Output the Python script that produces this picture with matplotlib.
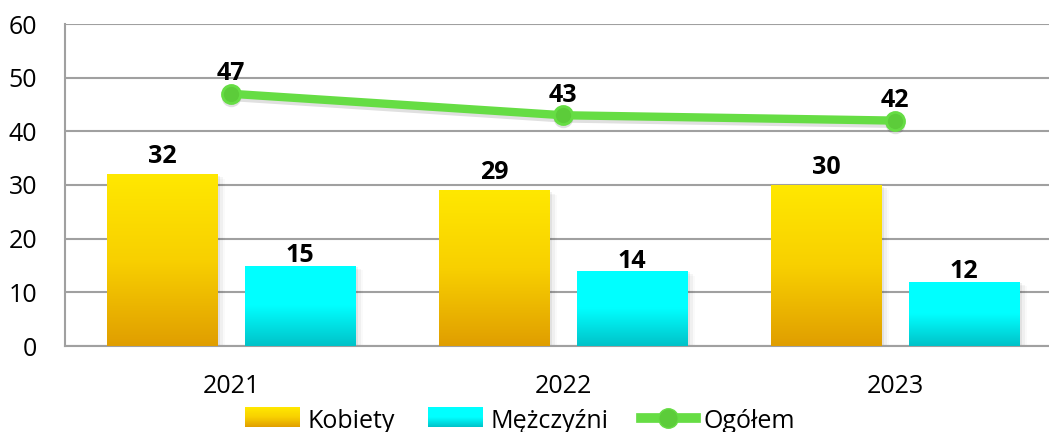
import matplotlib
matplotlib.use("Agg")
import matplotlib.pyplot as plt
import numpy as np
from matplotlib.colors import LinearSegmentedColormap
from matplotlib.lines import Line2D
from matplotlib.patches import Rectangle
from matplotlib.legend_handler import HandlerBase

years = ["2021", "2022", "2023"]
kobiety = [32, 29, 30]
mezczyzni = [15, 14, 12]
ogolem = [47, 43, 42]

plt.rcParams['font.family'] = ['Open Sans', 'DejaVu Sans']

W, H = 1049, 432
fig = plt.figure(figsize=(W/100, H/100), dpi=100)
left, right, bottom, top = 65, 1061, 346, 24
ax = fig.add_axes([left/W, 1 - bottom/H, (right-left)/W, (bottom-top)/H])

x = np.arange(len(years))
bw = 0.334
off = 0.208

cmap_k = LinearSegmentedColormap.from_list("k", ["#E09E00", "#F8D000", "#FFE800"])
cmap_m = LinearSegmentedColormap.from_list("m", [(0, "#00C2C8"), (0.5, "#00FFFF"), (1, "#00FFFF")])

def grad_bars(xs, vals, cmap, label):
    bars = ax.bar(xs, vals, bw, color="none", zorder=3, label=label)
    grad = np.linspace(0, 1, 256).reshape(-1, 1)
    for b in bars:
        bx, by, bwid, bh = b.get_x(), b.get_y(), b.get_width(), b.get_height()
        for i, a in enumerate([0.06, 0.04, 0.02]):
            s = Rectangle((bx + 0.008*(i+1), by - 0.3*(i+1)), bwid, bh, facecolor="black",
                          alpha=a, edgecolor="none", zorder=2)
            ax.add_patch(s)
        im = ax.imshow(grad, cmap=cmap, aspect="auto", origin="lower",
                       extent=[bx, bx + bwid, by, by + bh], zorder=3)
        im.set_clip_path(b)
    return bars

grad_bars(x - off, kobiety, cmap_k, "Kobiety")
grad_bars(x + off, mezczyzni, cmap_m, "Mężczyźni")

green = "#66DD44"
ax.plot(x, [v - 0.6 for v in ogolem], color="black", alpha=0.12, lw=6, zorder=3.5,
        marker="o", markersize=14, markeredgewidth=0)
ax.plot(x, ogolem, color=green, lw=6, marker="o", markersize=13,
        markerfacecolor="#5CCC3A", markeredgecolor=green, markeredgewidth=2, zorder=4)

lab_kw = dict(ha="center", va="bottom", fontsize=18, fontweight="bold", zorder=6)
for i in range(len(years)):
    ax.text(x[i] - off, kobiety[i] + 1.0, str(kobiety[i]), **lab_kw)
    ax.text(x[i] + off, mezczyzni[i] - 0.5, str(mezczyzni[i]), **lab_kw)
    ax.text(x[i], ogolem[i] + 1.4, str(ogolem[i]), **lab_kw)

ax.set_xlim(-0.5, 2.5)
ax.set_ylim(0, 60)
ax.set_yticks(range(0, 61, 10))
ax.set_xticks(x)
ax.set_xticklabels(years)
ax.tick_params(axis="both", length=0, labelsize=18, colors="black")
ax.tick_params(axis="y", pad=20)
ax.tick_params(axis="x", pad=20)
ax.grid(axis="y", color="#A0A0A0", lw=1.5, zorder=0)
ax.set_axisbelow(True)
for s in ["top", "right"]:
    ax.spines[s].set_visible(False)
ax.spines["left"].set_color("#A0A0A0")
ax.spines["left"].set_linewidth(1.5)
ax.spines["bottom"].set_color("#A0A0A0")
ax.spines["bottom"].set_linewidth(1.5)

class GradHandler(HandlerBase):
    def __init__(self, cmap):
        super().__init__()
        self.cmap = cmap
    def create_artists(self, legend, orig_handle, xd, yd, width, height, fontsize, trans):
        arts = []
        n = 20
        for i in range(n):
            r = Rectangle((xd, yd + height*i/n), width, height/n + 0.2,
                          facecolor=self.cmap((i + 0.5)/n), edgecolor="none", transform=trans)
            arts.append(r)
        return arts

hk = Rectangle((0, 0), 1, 1)
hm = Rectangle((0, 0), 1, 1)
hl = Line2D([], [], color=green, lw=7, marker="o", markersize=14,
            markerfacecolor="#5CCC3A", markeredgecolor=green)
leg = fig.legend([hk, hm, hl], ["Kobiety", "Mężczyźni", "Ogółem"],
                 handler_map={hk: GradHandler(cmap_k), hm: GradHandler(cmap_m)},
                 loc="center", bbox_to_anchor=(520/W, 1 - 421/H), ncol=3, frameon=False,
                 fontsize=18, handlelength=2.2, handleheight=0.8, handletextpad=0.3,
                 columnspacing=1.3)

fig.savefig("out.png", dpi=100)
